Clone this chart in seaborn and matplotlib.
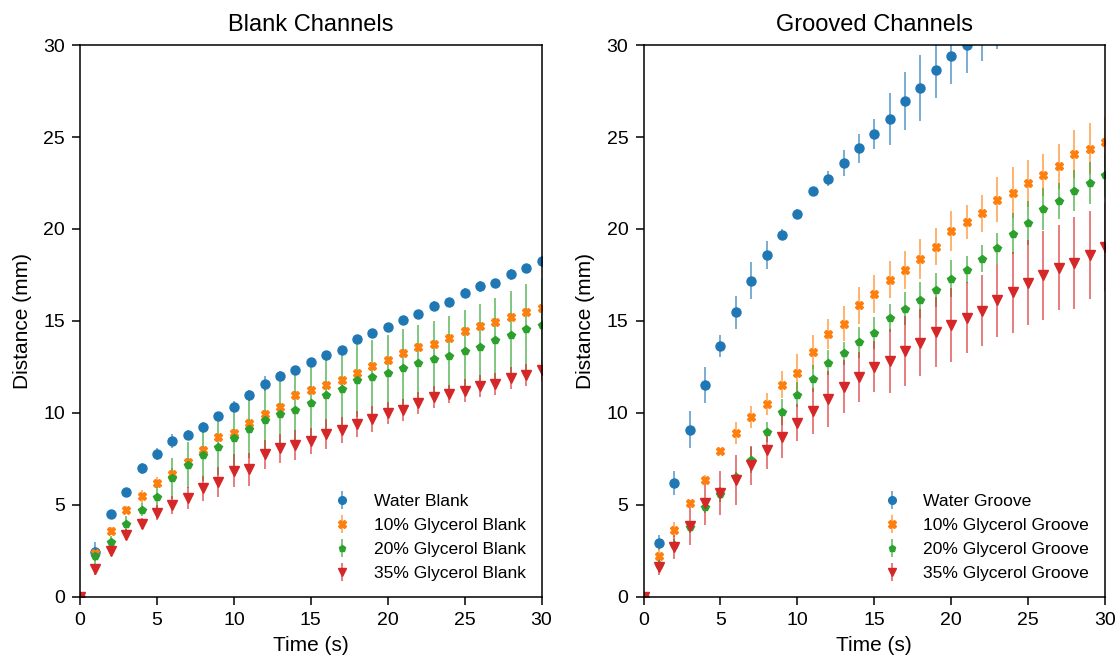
"""
Travel distance vs time in blank and grooved channels,
water and glycerol mixtures, mean +/- error bars.
"""

import matplotlib
matplotlib.use('Agg')
import matplotlib.pyplot as plt
import seaborn as sns

sns.set_theme(style='ticks', palette='tab10')
plt.rcParams['font.family'] = ['Liberation Sans', 'DejaVu Sans']
plt.rcParams['axes.edgecolor'] = 'black'
plt.rcParams['xtick.color'] = 'black'
plt.rcParams['ytick.color'] = 'black'
plt.rcParams['text.color'] = 'black'
plt.rcParams['axes.labelcolor'] = 'black'

# ------------------------------------------------------------
# Data
# ------------------------------------------------------------
time_s = list(range(31))

labels = ['Water', '10% Glycerol', '20% Glycerol', '35% Glycerol']
markers = ['o', 'X', 'p', 'v']
marker_sizes = [6.5, 6, 5.5, 7.5]

water_blank = [0, 2.47, 4.5, 5.68, 6.99, 7.77, 8.48, 8.82, 9.22, 9.82, 10.33,
               10.96, 11.6, 12.03, 12.36, 12.78, 13.16, 13.43, 14.01, 14.37, 14.7,
               15.06, 15.37, 15.83, 16.03, 16.52, 16.9, 17.08, 17.53, 17.86, 18.26]
water_blank_err = [0, 0.5, 0.2, 0.2, 0.3, 0.3, 0.38, 0.25, 0.3, 0.25, 0.3,
                   0.3, 0.4, 0.25, 0.2, 0.2, 0.2, 0.2, 0.2, 0.2, 0.2,
                   0.2, 0.2, 0.25, 0.2, 0.25, 0.3, 0.2, 0.3, 0.2, 0.2]

gly10_blank = [0, 2.41, 3.59, 4.75, 5.48, 6.22, 6.71, 7.33, 7.99, 8.68, 8.91,
               9.46, 9.95, 10.34, 10.98, 11.27, 11.54, 11.78, 12.16, 12.54, 12.87,
               13.28, 13.59, 13.74, 14.07, 14.45, 14.74, 14.97, 15.21, 15.5, 15.72]
gly10_blank_err = [0, 0.3, 0.2, 0.2, 0.35, 0.3, 0.3, 0.2, 0.2, 0.2, 0.2,
                   0.2, 0.2, 0.2, 0.2, 0.2, 0.2, 0.2, 0.2, 0.2, 0.2,
                   0.2, 0.2, 0.2, 0.2, 0.2, 0.2, 0.2, 0.2, 0.2, 0.2]

gly20_blank = [0, 2.2, 2.99, 3.99, 4.75, 5.44, 6.44, 7.15, 7.71, 8.13, 8.62,
               9.13, 9.62, 9.95, 10.15, 10.56, 11.0, 11.32, 11.78, 11.94, 12.2,
               12.47, 12.7, 12.92, 13.09, 13.39, 13.61, 13.94, 14.23, 14.57, 14.79]
gly20_blank_err = [0, 0.5, 0.3, 0.4, 0.35, 0.9, 1.14, 1.25, 1.4, 1.5, 1.6,
                   1.6, 1.7, 1.8, 1.9, 2.0, 2.0, 2.0, 2.0, 2.0, 2.05,
                   2.1, 2.1, 2.1, 2.2, 2.2, 2.3, 2.3, 2.4, 2.45, 2.5]

gly35_blank = [0, 1.51, 2.5, 3.38, 3.99, 4.59, 5.01, 5.37, 5.9, 6.24, 6.86,
               6.95, 7.75, 8.08, 8.26, 8.49, 8.86, 9.07, 9.4, 9.66, 9.98,
               10.16, 10.53, 10.85, 11.03, 11.22, 11.47, 11.6, 11.92, 12.05, 12.34]
gly35_blank_err = [0, 0.3, 0.3, 0.3, 0.3, 0.4, 0.5, 0.6, 0.7, 0.8, 0.9,
                   0.9, 0.8, 0.8, 0.8, 0.7, 0.8, 0.7, 0.7, 0.7, 0.6,
                   0.6, 0.6, 0.6, 0.5, 0.6, 0.6, 0.6, 0.6, 0.6, 0.6]

water_groove = [0, 2.95, 6.17, 9.09, 11.52, 13.62, 15.48, 17.2, 18.6, 19.68, 20.83,
                22.08, 22.73, 23.57, 24.38, 25.18, 25.98, 26.97, 27.67, 28.64, 29.4,
                30.02, 30.6, 31.3, 31.9, 32.4, 32.9, 33.4, 33.9, 34.3, 34.7]
water_groove_err = [0, 0.4, 0.65, 1.0, 0.98, 0.6, 0.9, 1.03, 0.77, 0.3, 0.25,
                    0.2, 0.4, 0.7, 0.77, 0.82, 1.4, 1.57, 1.8, 1.5, 1.5,
                    1.55, 1.45, 1.5, 1.4, 1.4, 1.4, 1.4, 1.4, 1.4, 1.4]

gly10_groove = [0, 2.25, 3.65, 5.1, 6.37, 7.93, 8.9, 9.79, 10.48, 11.54, 12.19,
                13.33, 14.28, 14.86, 15.86, 16.49, 17.24, 17.77, 18.36, 19.03, 19.89,
                20.39, 20.86, 21.6, 21.98, 22.48, 22.96, 23.41, 24.06, 24.37, 24.71]
gly10_groove_err = [0, 0.4, 0.4, 0.15, 0.25, 0.1, 0.6, 0.58, 0.6, 0.75, 1.0,
                    0.92, 0.82, 0.96, 1.0, 1.03, 1.0, 1.03, 1.07, 1.0, 1.07,
                    0.94, 1.0, 1.2, 1.39, 1.29, 1.14, 1.21, 1.3, 1.4, 1.4]

gly20_groove = [0, 1.75, 2.85, 3.8, 4.88, 5.57, 6.5, 7.43, 8.95, 10.07, 11.0,
                11.87, 12.74, 13.24, 13.84, 14.37, 15.16, 15.67, 16.14, 16.67, 17.3,
                17.79, 18.39, 18.95, 19.75, 20.34, 21.1, 21.54, 22.08, 22.48, 22.95]
gly20_groove_err = [0, 0.3, 0.3, 0.3, 0.3, 0.4, 0.3, 0.7, 0.55, 0.7, 0.7,
                    0.72, 0.7, 0.63, 0.83, 0.87, 0.78, 0.89, 1.0, 0.92, 1.0,
                    0.74, 0.74, 0.85, 1.1, 1.2, 1.14, 0.98, 1.12, 1.14, 1.2]

gly35_groove = [0, 1.65, 2.7, 3.86, 5.09, 5.67, 6.36, 7.17, 7.99, 8.71, 9.47,
                10.11, 10.76, 11.43, 11.97, 12.52, 12.83, 13.37, 13.82, 14.42, 14.78,
                15.18, 15.56, 16.12, 16.56, 17.08, 17.48, 17.9, 18.17, 18.57, 19.04]
gly35_groove_err = [0, 0.45, 0.65, 1.04, 1.18, 1.2, 1.35, 1.06, 1.06, 1.18, 1.0,
                    1.27, 1.52, 1.45, 1.36, 1.39, 1.76, 1.9, 1.81, 1.9, 2.03,
                    1.94, 1.92, 2.0, 2.2, 2.3, 2.4, 2.3, 2.5, 2.4, 2.4]

blank = [(water_blank, water_blank_err), (gly10_blank, gly10_blank_err),
         (gly20_blank, gly20_blank_err), (gly35_blank, gly35_blank_err)]
groove = [(water_groove, water_groove_err), (gly10_groove, gly10_groove_err),
          (gly20_groove, gly20_groove_err), (gly35_groove, gly35_groove_err)]

colors = sns.color_palette('tab10', 4)

# ------------------------------------------------------------
# Plot
# ------------------------------------------------------------
fig, axes = plt.subplots(1, 2, figsize=(11.18, 6.6), dpi=100)
fig.subplots_adjust(left=0.0716, right=0.9884, bottom=0.0955, top=0.9318, wspace=0.221)

panels = [(axes[0], blank, 'Blank', 'Blank Channels'),
          (axes[1], groove, 'Groove', 'Grooved Channels')]

for ax, series, suffix, title in panels:
    for (vals, errs), lab, mk, ms, col in zip(series, labels, markers, marker_sizes, colors):
        eb = ax.errorbar(time_s, vals, yerr=errs, fmt=mk, color=col, ms=ms,
                         elinewidth=1.4, capsize=0, label=f'{lab} {suffix}')
        for line in eb[2]:
            line.set_alpha(0.6)
    ax.set_xlim(0, 30)
    ax.set_ylim(0, 30)
    ax.set_xticks(range(0, 31, 5))
    ax.set_yticks(range(0, 31, 5))
    ax.set_xlabel('Time (s)', fontsize=15, labelpad=5)
    ax.set_ylabel('Distance (mm)', fontsize=15, labelpad=8)
    ax.set_title(title, fontsize=17, pad=10)
    ax.tick_params(labelsize=14, length=6, width=1.1, direction='out', pad=5)
    for sp in ax.spines.values():
        sp.set_linewidth(1.1)
    ax.legend(loc='lower right', frameon=False, fontsize=12.6, markerscale=0.85)

plt.savefig('out.png', dpi=100)
